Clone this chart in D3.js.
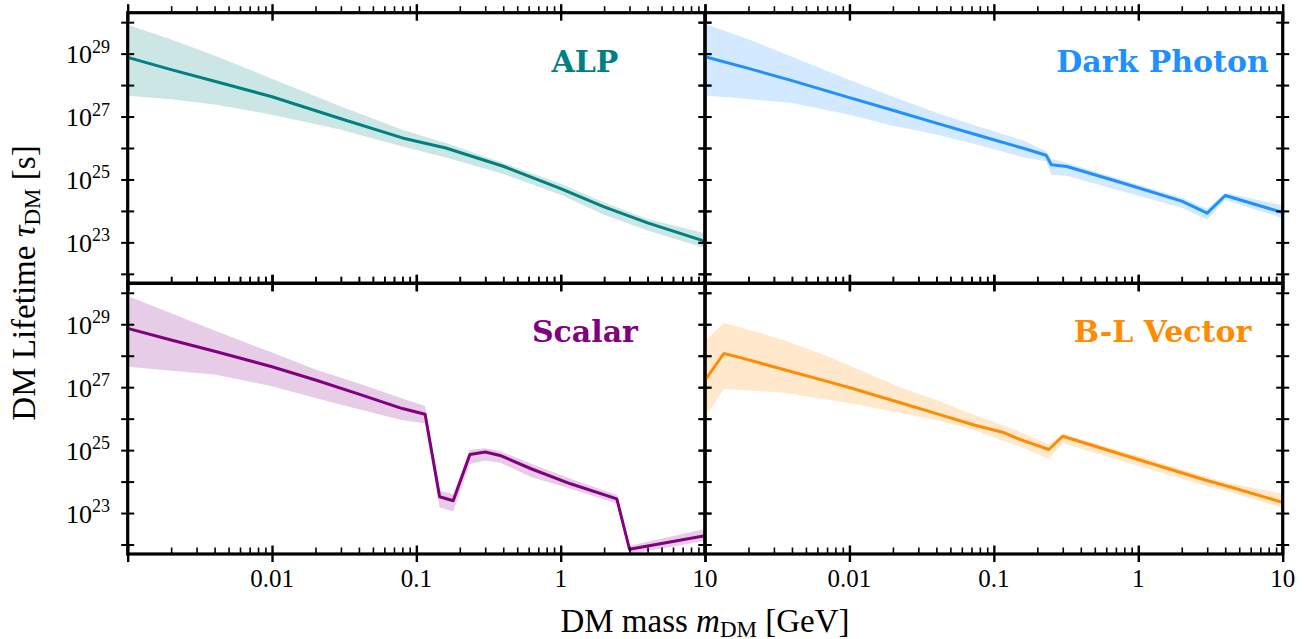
<!DOCTYPE html>
<html>
<head>
<meta charset="utf-8">
<script src="https://cdn.jsdelivr.net/npm/d3@7"></script>
<style>
  body { margin: 0; background: #fff; }
  svg { display: block; }
</style>
</head>
<body>
<svg id="chart" width="1304" height="639"></svg>
<script>
// tick values / labels
const xTickVals = [0.01, 0.1, 1, 10]
const xTickLabels = ["0.01", "0.1", "1", "10"]
const yTickExps = [29, 27, 25, 23]

// values are log10 of lifetime in seconds, masses in GeV
const alpMass  = [0.001, 0.002, 0.004, 0.01, 0.03, 0.08, 0.16, 0.4, 1, 2, 4, 10]
const alpLine  = [28.88, 28.49, 28.12, 27.63, 26.93, 26.32, 26.00, 25.42, 24.71, 24.13, 23.62, 23.03]
const alpUpper = [29.92, 29.45, 28.94, 28.20, 27.32, 26.58, 26.16, 25.52, 24.86, 24.27, 23.74, 23.29]
const alpLower = [27.66, 27.55, 27.38, 27.06, 26.58, 26.05, 25.70, 25.17, 24.51, 23.88, 23.38, 22.82]

const dpMass  = [0.001, 0.002, 0.004, 0.01, 0.02, 0.04, 0.08, 0.16, 0.23, 0.25, 0.32, 0.7, 2, 3, 4, 10]
const dpLine  = [28.90, 28.53, 28.14, 27.60, 27.20, 26.79, 26.39, 25.99, 25.77, 25.47, 25.41, 24.95, 24.31, 23.93, 24.49, 23.95]
const dpUpper = [29.94, 29.46, 28.90, 28.16, 27.63, 27.12, 26.67, 26.24, 25.90, 25.65, 25.53, 25.05, 24.42, 24.07, 24.58, 24.18]
const dpLower = [27.67, 27.56, 27.43, 27.06, 26.71, 26.43, 26.09, 25.70, 25.58, 25.15, 25.12, 24.68, 24.10, 23.72, 24.35, 23.77]

const scMass  = [0.001, 0.002, 0.004, 0.01, 0.02, 0.04, 0.08, 0.115, 0.145, 0.18, 0.235, 0.3, 0.38, 0.63, 1.17, 2.45, 3.0, 10]
const scLine  = [28.87, 28.50, 28.14, 27.65, 27.23, 26.78, 26.32, 26.14, 23.52, 23.39, 24.86, 24.94, 24.83, 24.40, 23.93, 23.45, 21.85, 22.28]
const scUpper = [29.90, 29.35, 28.80, 28.10, 27.56, 27.12, 26.64, 26.40, 23.72, 23.60, 25.01, 25.06, 24.97, 24.56, 24.09, 23.57, 21.96, 22.49]
const scLower = [27.65, 27.52, 27.40, 27.03, 26.66, 26.30, 25.95, 25.85, 23.18, 23.05, 24.56, 24.67, 24.60, 24.14, 23.77, 23.30, 21.69, 22.12]

const blMass  = [0.001, 0.00135, 0.00166, 0.0035, 0.0072, 0.0105, 0.0234, 0.04, 0.074, 0.115, 0.148, 0.24, 0.3, 0.81, 2.9, 4.4, 10]
const blLine  = [27.22, 28.07, 27.97, 27.56, 27.17, 26.96, 26.48, 26.16, 25.79, 25.57, 25.36, 25.02, 25.44, 24.83, 24.05, 23.82, 23.34]
const blUpper = [28.45, 29.05, 28.93, 28.50, 27.97, 27.65, 26.96, 26.59, 26.11, 25.79, 25.60, 25.18, 25.52, 24.94, 24.16, 23.95, 23.61]
const blLower = [26.05, 26.94, 26.93, 26.82, 26.59, 26.48, 26.16, 25.95, 25.63, 25.30, 25.15, 24.72, 25.22, 24.62, 23.87, 23.65, 23.16]

const panels = [
  {name: "ALP",         color: "#008080", col: 0, row: 0, mass: alpMass, line: alpLine, upper: alpUpper, lower: alpLower},
  {name: "Dark Photon", color: "#1e90ff", col: 1, row: 0, mass: dpMass,  line: dpLine,  upper: dpUpper,  lower: dpLower},
  {name: "Scalar",      color: "#800080", col: 0, row: 1, mass: scMass,  line: scLine,  upper: scUpper,  lower: scLower},
  {name: "B-L Vector",  color: "#ff8c00", col: 1, row: 1, mass: blMass,  line: blLine,  upper: blUpper,  lower: blLower},
]

const xEdges = [127.7, 705, 1282.7]
const yEdges = [12.7, 283.3, 554]
const serif = "'Liberation Serif', 'Times New Roman', serif"

const svg = d3.select("#chart")
const defs = svg.append("defs")

// minor tick values 2..9 x 10^k
const minorVals = []
for (let k = -3; k <= 0; k++) for (let j = 2; j <= 9; j++) minorVals.push(j * 10 ** k)
const majorVals = [0.001, 0.01, 0.1, 1, 10]
const yDecades = d3.range(22, 31).map(e => 10 ** e)

panels.forEach((p, i) => {
  const x0 = xEdges[p.col], x1 = xEdges[p.col + 1]
  const y0 = yEdges[p.row], y1 = yEdges[p.row + 1]
  const x = d3.scaleLog().domain([1e-3, 10]).range([x0, x1])
  const y = d3.scaleLog().domain([5e21, 2e30]).range([y1, y0])

  const pts = p.mass.map((m, j) => ({m, v: 10 ** p.line[j], hi: 10 ** p.upper[j], lo: 10 ** p.lower[j]}))

  defs.append("clipPath").attr("id", "clip" + i)
    .append("rect").attr("x", x0).attr("y", y0).attr("width", x1 - x0).attr("height", y1 - y0)

  const g = svg.append("g").attr("clip-path", `url(#clip${i})`)
  g.append("path")
    .datum(pts)
    .attr("fill", p.color)
    .attr("fill-opacity", 0.2)
    .attr("d", d3.area().x(d => x(d.m)).y0(d => y(d.lo)).y1(d => y(d.hi)))
  g.append("path")
    .datum(pts)
    .attr("fill", "none")
    .attr("stroke", p.color)
    .attr("stroke-width", 3)
    .attr("stroke-linejoin", "round")
    .attr("d", d3.line().x(d => x(d.m)).y(d => y(d.v)))

  // panel title
  svg.append("text")
    .attr("x", x0 + 0.792 * (x1 - x0))
    .attr("y", y0 + 59)
    .attr("text-anchor", "middle")
    .attr("font-family", "'DejaVu Serif', serif")
    .attr("font-weight", "bold")
    .attr("font-size", 30)
    .attr("fill", p.color)
    .text(p.name)

  // x ticks on top and bottom spine
  ;[y0, y1].forEach(yy => {
    const minor = svg.append("g").attr("transform", `translate(0,${yy})`)
      .call(d3.axisTop(x).tickValues(minorVals).tickSize(6.5).tickFormat(""))
    const majUp = svg.append("g").attr("transform", `translate(0,${yy})`)
      .call(d3.axisTop(x).tickValues(majorVals).tickSize(8.5).tickFormat(""))
    const majDn = svg.append("g").attr("transform", `translate(0,${yy})`)
      .call(d3.axisBottom(x).tickValues(majorVals).tickSize(8).tickFormat(""))
    ;[minor, majUp, majDn].forEach(a => {
      a.select(".domain").remove()
      a.selectAll(".tick line").attr("stroke", "#000")
    })
    minor.selectAll(".tick line").attr("stroke-width", 1.6)
    majUp.selectAll(".tick line").attr("stroke-width", 2.4)
    majDn.selectAll(".tick line").attr("stroke-width", 2.4)
  })

  // y ticks crossing left and right spine
  ;[x0, x1].forEach(xx => {
    ;[d3.axisLeft(y), d3.axisRight(y)].forEach(ax => {
      const a = svg.append("g").attr("transform", `translate(${xx},0)`)
        .call(ax.tickValues(yDecades).tickSize(6.5).tickFormat(""))
      a.select(".domain").remove()
      a.selectAll(".tick line").attr("stroke", "#000").attr("stroke-width", 2)
    })
  })

  // x tick labels on bottom row
  if (p.row === 1) {
    svg.append("g").selectAll("text")
      .data(xTickVals)
      .join("text")
      .attr("x", d => x(d))
      .attr("y", 587)
      .attr("text-anchor", "middle")
      .attr("font-family", serif)
      .attr("font-size", 25)
      .attr("fill", "#000")
      .text((d, j) => xTickLabels[j])
  }

  // y tick labels on left column
  if (p.col === 0) {
    const lab = svg.append("g").selectAll("text")
      .data(yTickExps)
      .join("text")
      .attr("x", 110)
      .attr("y", d => y(10 ** d) + 9.5)
      .attr("text-anchor", "end")
      .attr("font-family", serif)
      .attr("font-size", 26)
      .attr("fill", "#000")
    lab.append("tspan").text("10")
    lab.append("tspan").attr("dy", -10.5).attr("font-size", 18).text(d => d)
  }

  // spines
  svg.append("rect")
    .attr("x", x0).attr("y", y0)
    .attr("width", x1 - x0).attr("height", y1 - y0)
    .attr("fill", "none")
    .attr("stroke", "#000")
    .attr("stroke-width", 3.2)
})

// axis titles
const xt = svg.append("text")
  .attr("x", 705).attr("y", 632)
  .attr("text-anchor", "middle")
  .attr("font-family", serif)
  .attr("font-size", 33)
  .attr("fill", "#000")
xt.append("tspan").text("DM mass ")
xt.append("tspan").attr("font-style", "italic").text("m")
xt.append("tspan").attr("font-size", 23).attr("dy", 5).text("DM")
xt.append("tspan").attr("dy", -5).text(" [GeV]")

const yt = svg.append("text")
  .attr("transform", `translate(35,283) rotate(-90)`)
  .attr("text-anchor", "middle")
  .attr("font-family", serif)
  .attr("font-size", 33)
  .attr("fill", "#000")
yt.append("tspan").text("DM Lifetime ")
yt.append("tspan").attr("font-style", "italic").text("τ")
yt.append("tspan").attr("font-size", 23).attr("dy", 5).text("DM")
yt.append("tspan").attr("dy", -5).text(" [s]")
</script>
</body>
</html>
